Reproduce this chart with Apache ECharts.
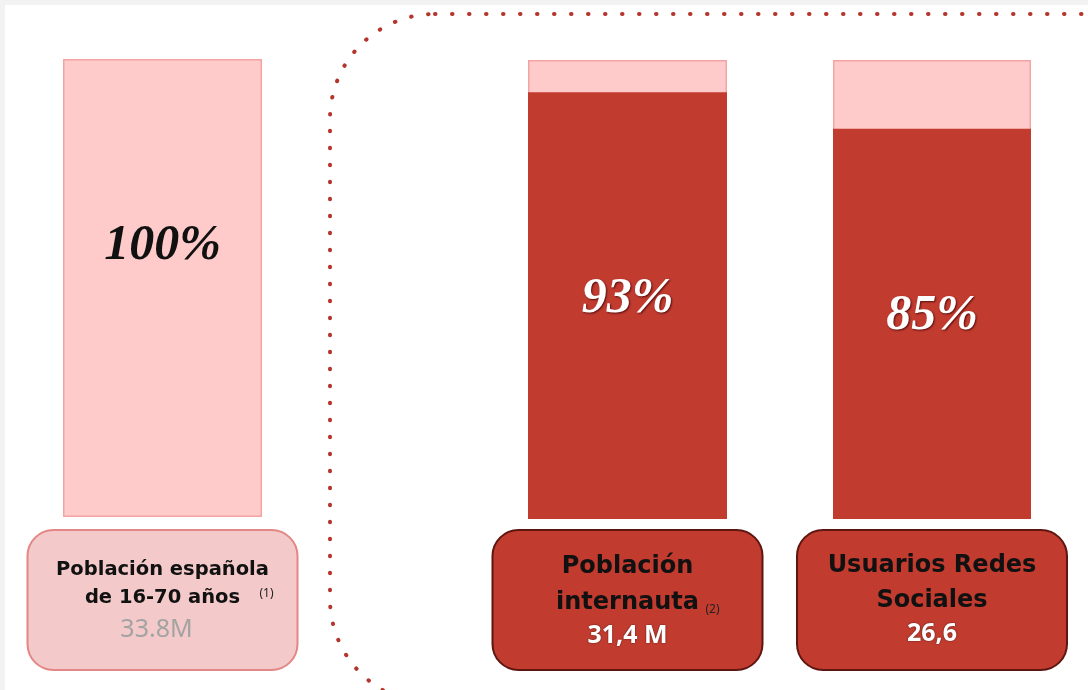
<!DOCTYPE html>
<html><head><meta charset="utf-8">
<script src="https://cdn.jsdelivr.net/npm/echarts@6/dist/echarts.min.js"></script>
<style>html,body{margin:0;padding:0;background:#f2f2f2;}#c{position:absolute;left:5px;top:5px;width:1083px;height:685px;background:#fff;}</style>
</head><body><div id="c"></div>
<script>
// Data
const categories = ['Población española de 16-70 años', 'Población internauta', 'Usuarios Redes Sociales'];
const titleLines = [['Población española', 'de 16-70 años'], ['Población', 'internauta'], ['Usuarios Redes', 'Sociales']];
const footnotes = ['(1)', '(2)', ''];
const totals = ['33.8M', '31,4 M', '26,6'];
const percentValues = [100, 93, 85];
const baseValues = [100, 100, 100];

const chart = echarts.init(document.getElementById('c'), null, {renderer: 'canvas'});
const OX = 5, OY = 5; // page offset of chart container
const grids = [
  {left: 63 - OX, top: 59 - OY, width: 199, height: 458},
  {left: 528 - OX, top: 60 - OY, width: 199, height: 459},
  {left: 833 - OX, top: 60 - OY, width: 198, height: 459}
];
const labelOffsets = [[0, -42], [0, -6], [0, -8]];
const xAxes = [], yAxes = [], series = [];
grids.forEach((g, i) => {
  xAxes.push({type: 'category', gridIndex: i, data: [categories[i]], show: false});
  yAxes.push({type: 'value', gridIndex: i, min: 0, max: 100, show: false});
  series.push({
    type: 'bar', xAxisIndex: i, yAxisIndex: i, barWidth: '100%', barGap: '-100%',
    data: [baseValues[i]], silent: true, z: 1,
    itemStyle: {color: '#ffcaca', borderColor: '#f4a3a3', borderWidth: 1.5},
    label: i === 0 ? {
      show: true, position: 'inside', offset: labelOffsets[i],
      formatter: () => percentValues[i] + '%',
      fontFamily: 'Liberation Serif', fontStyle: 'italic', fontWeight: 'bold', fontSize: 50, color: '#111'
    } : {show: false}
  });
  if (i > 0) {
    series.push({
      type: 'bar', xAxisIndex: i, yAxisIndex: i, barWidth: '100%', barGap: '-100%',
      data: [percentValues[i]], z: 2,
      itemStyle: {color: '#c23b2f'},
      label: {
        show: true, position: 'inside', offset: labelOffsets[i],
        formatter: '{c}%', fontFamily: 'Liberation Serif', fontStyle: 'italic', fontWeight: 'bold',
        fontSize: 50, color: '#fff', textShadowColor: 'rgba(60,0,0,0.8)', textShadowBlur: 2, textShadowOffsetX: 1, textShadowOffsetY: 1
      }
    });
  }
});

chart.setOption({
  animation: false,
  grid: grids,
  xAxis: xAxes,
  yAxis: yAxes,
  series: series
});

// Build label boxes under each bar, centred on the category position
const boxStyles = [
  {fill: '#f3c9c9', stroke: '#e38686', text: '#111', total: '#a3a3a3', titleSize: 19.5, lines: [40, 68], totalY: 100, totalFont: '25px "Noto Sans", sans-serif', totalDx: -6, fn: [104, 64]},
  {fill: '#c23b2f', stroke: '#5e1611', text: '#111', total: '#fff', titleSize: 24, lines: [37, 73], totalY: 106, totalFont: 'bold 25px "Noto Sans", sans-serif', totalDx: 0, fn: [85, 80]},
  {fill: '#c23b2f', stroke: '#5e1611', text: '#111', total: '#fff', titleSize: 24, lines: [36, 71], totalY: 104, totalFont: 'bold 25px "Noto Sans", sans-serif', totalDx: 0, fn: null}
];
const graphics = [];
categories.forEach((cat, i) => {
  const cx = chart.convertToPixel({xAxisIndex: i}, cat);
  const st = boxStyles[i];
  const bw = 270, bh = 140, top = 530 - OY;
  const children = [
    {type: 'rect', shape: {x: -bw / 2, y: 0, width: bw, height: bh, r: 26},
     style: {fill: st.fill, stroke: st.stroke, lineWidth: 2}},
  ];
  titleLines[i].forEach((ln, k) => {
    children.push({type: 'text', x: 0, y: st.lines[k],
      style: {text: ln, fill: st.text, font: 'bold ' + st.titleSize + 'px "DejaVu Sans", sans-serif', align: 'center', verticalAlign: 'middle'}});
  });
  if (footnotes[i] && st.fn) {
    children.push({type: 'text', x: st.fn[0], y: st.fn[1],
      style: {text: footnotes[i], fill: '#222', font: '12px "Noto Sans", sans-serif', align: 'center', verticalAlign: 'middle'}});
  }
  children.push({type: 'text', x: st.totalDx, y: st.totalY,
    style: {text: totals[i], fill: st.total, font: st.totalFont, align: 'center', verticalAlign: 'middle',
      textShadowColor: i === 0 ? 'transparent' : 'rgba(0,0,0,0.6)', textShadowBlur: 2}});
  graphics.push({type: 'group', x: cx, y: top, children: children});
});
// Dotted rounded frame around the online-population bars
graphics.push({type: 'rect', z: -1, shape: {x: 330 - OX, y: 14 - OY, width: 900, height: 690, r: 105},
  style: {fill: 'none', stroke: '#b5352c', lineWidth: 4, lineDash: [0.5, 16.5], lineCap: 'round'}});
chart.setOption({graphic: graphics});
</script></body></html>
